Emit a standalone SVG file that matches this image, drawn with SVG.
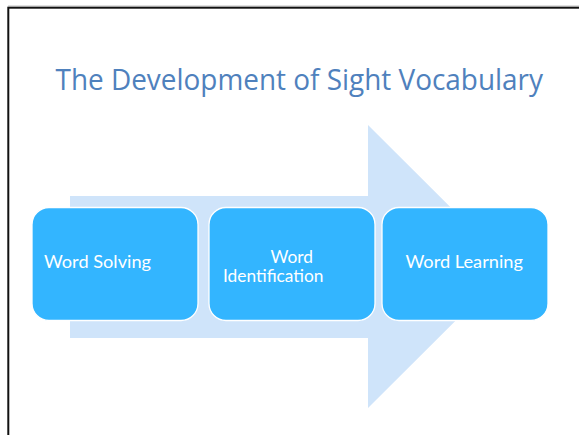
<svg xmlns="http://www.w3.org/2000/svg" width="579" height="435" viewBox="0 0 579 435">
  <style>
    .title { font-family: "Open Sans", "Noto Sans", sans-serif; font-size: 29px; fill: #4F81BD; }
    .step { fill: #33B5FF; stroke: #FFFFFF; stroke-width: 1.3; }
    .label { font-family: Lato, "DejaVu Sans", sans-serif; font-size: 17.5px; fill: #FFFFFF; }
  </style>
  <rect width="579" height="435" fill="#FFFFFF"/>
  <!-- slide frame (runs off the right and bottom edges) -->
  <rect x="8.3" y="7.7" width="600" height="460" fill="none" stroke="#111111" stroke-width="2"/>
  <line x1="8" y1="6.2" x2="579" y2="6.2" stroke="#9A9A9A" stroke-width="1"/>

  <text class="title" x="55.5" y="89.7" textLength="487.5" lengthAdjust="spacingAndGlyphs">The Development of Sight Vocabulary</text>

  <!-- background process arrow -->
  <g id="connectors">
    <polygon points="70,196 368,196 368,125 510,266.5 368,408 368,338 70,338" fill="#CFE4FA"/>
  </g>

  <g id="word-solving">
    <rect class="step" x="32" y="207.5" width="166" height="113" rx="17"/>
    <text class="label" x="44" y="267.7" textLength="107" lengthAdjust="spacingAndGlyphs">Word Solving</text>
  </g>
  <g id="word-identification">
    <rect class="step" x="209" y="207.5" width="166" height="113" rx="17"/>
    <text class="label" x="270.5" y="262.7" textLength="42.5" lengthAdjust="spacingAndGlyphs">Word</text>
    <text class="label" x="223" y="281.7" textLength="100.5" lengthAdjust="spacingAndGlyphs">Identification</text>
  </g>
  <g id="word-learning">
    <rect class="step" x="382" y="207.5" width="166" height="113" rx="17"/>
    <text class="label" x="405.5" y="267.7" textLength="117.5" lengthAdjust="spacingAndGlyphs">Word Learning</text>
  </g>
</svg>
